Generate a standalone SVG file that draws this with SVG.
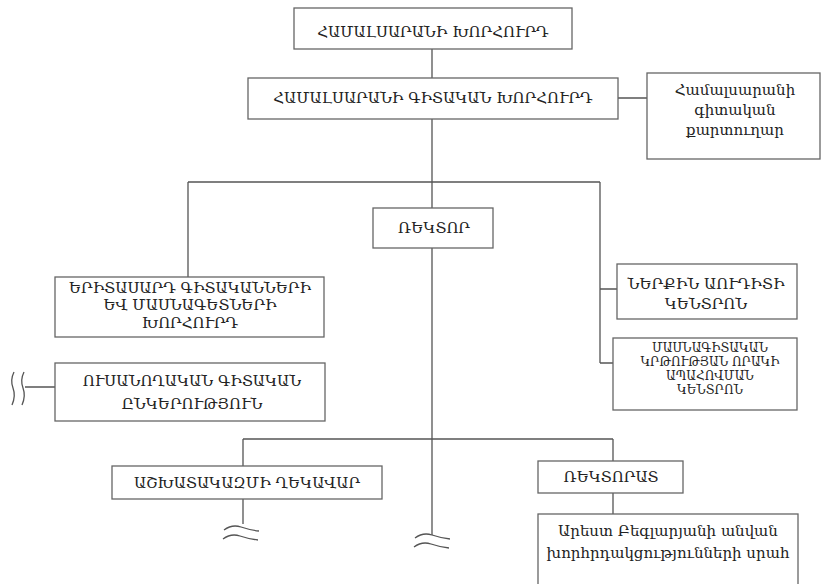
<svg xmlns="http://www.w3.org/2000/svg" width="822" height="584" viewBox="0 0 822 584">
<style>
.box{fill:#fff;stroke:#666;stroke-width:1.3}
.ln{fill:none;stroke:#555;stroke-width:1.3}
.t{font-family:"DejaVu Serif","Liberation Serif",serif;font-size:15px;fill:#222;text-anchor:middle}
.s{font-size:12px}
</style>
<rect width="822" height="584" fill="#fff"/>
<g id="connectors">
<path class="ln" d="M432,49V78M618,98H647M432,119V535M188,182H600M188,182V277M600,182V363M600,289H617M600,363H613"/>
<path class="ln" d="M243,439H613M243,439V466M613,439V461M243,499V524M613,493V514M25,387H55"/>
<path class="ln" d="M224,530Q232,524 241,527T259,531M223,539Q231,533 240,536T258,540"/>
<path class="ln" d="M415,538Q423,532 432,535T450,539M414,547Q422,541 431,544T449,548"/>
<path class="ln" d="M14,372Q10,380 13,388T12,405M24,372Q20,380 23,388T22,405"/>
</g>
<g id="n1"><rect class="box" x="294" y="8" width="278" height="41"/><text class="t" x="433" y="37" font-size="17">ՀԱՄԱԼՍԱՐԱՆԻ ԽՈՐՀՈՒՐԴ</text></g>
<g id="n2"><rect class="box" x="248" y="78" width="370" height="41"/><text class="t" x="433" y="103" font-size="14.5">ՀԱՄԱԼՍԱՐԱՆԻ ԳԻՏԱԿԱՆ ԽՈՐՀՈՒՐԴ</text></g>
<g id="n3"><rect class="box" x="647" y="73" width="173" height="86"/><text class="t" x="735" y="95">Համալսարանի</text><text class="t" x="735" y="115">գիտական</text><text class="t" x="735" y="135">քարտուղար</text></g>
<g id="n4"><rect class="box" x="373" y="208" width="120" height="40"/><text class="t" x="434" y="233" font-size="16">ՌԵԿՏՈՐ</text></g>
<g id="n5"><rect class="box" x="55" y="277" width="269" height="60"/><text class="t" x="190" y="293">ԵՐԻՏԱՍԱՐԴ ԳԻՏԱԿԱՆՆԵՐԻ</text><text class="t" x="190" y="310">ԵՎ ՄԱՍՆԱԳԵՏՆԵՐԻ</text><text class="t" x="190" y="328">ԽՈՐՀՈՒՐԴ</text></g>
<g id="n6"><rect class="box" x="617" y="264" width="180" height="55"/><text class="t" x="706" y="289" font-size="13.5">ՆԵՐՔԻՆ ԱՈՒԴԻՏԻ</text><text class="t" x="706" y="309" font-size="13.5">ԿԵՆՏՐՈՆ</text></g>
<g id="n7"><rect class="box" x="613" y="338" width="184" height="72"/><text class="t s" x="710" y="352">ՄԱՍՆԱԳԻՏԱԿԱՆ</text><text class="t s" x="710" y="366">ԿՐԹՈՒԹՅԱՆ ՈՐԱԿԻ</text><text class="t s" x="710" y="380">ԱՊԱՀՈՎՄԱՆ</text><text class="t s" x="710" y="394">ԿԵՆՏՐՈՆ</text></g>
<g id="n8"><rect class="box" x="55" y="363" width="270" height="58"/><text class="t" x="192" y="386">ՈՒՍԱՆՈՂԱԿԱՆ ԳԻՏԱԿԱՆ</text><text class="t" x="192" y="409">ԸՆԿԵՐՈՒԹՅՈՒՆ</text></g>
<g id="n9"><rect class="box" x="112" y="466" width="270" height="33"/><text class="t" x="247" y="488">ԱՇԽԱՏԱԿԱԶՄԻ ՂԵԿԱՎԱՐ</text></g>
<g id="n10"><rect class="box" x="538" y="461" width="145" height="32"/><text class="t" x="611" y="482">ՌԵԿՏՈՐԱՏ</text></g>
<g id="n11"><rect class="box" x="538" y="514" width="260" height="80"/><text class="t" x="668" y="536" font-size="14">Արեստ Բեգլարյանի անվան</text><text class="t" x="668" y="558" font-size="14">խորհրդակցությունների սրահ</text></g>
</svg>
